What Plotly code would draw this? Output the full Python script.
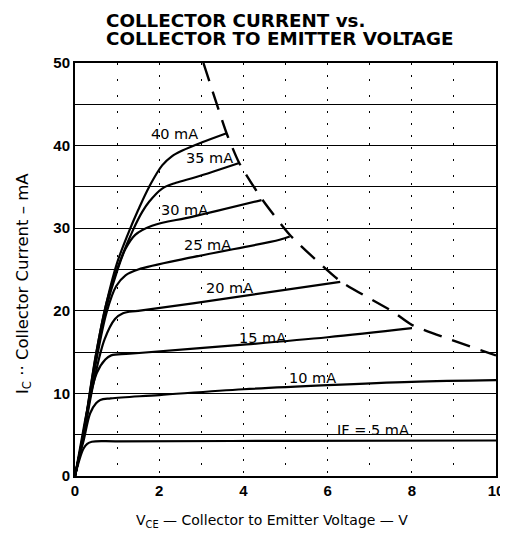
import plotly.graph_objects as go

# ---- data ----
V_5 = [0, 0.1, 0.2, 0.29, 0.4, 1.0, 5.0, 10.0]
I_5 = [0, 1.9, 3.3, 3.9, 4.15, 4.2, 4.25, 4.3]

V_10 = [0, 0.1, 0.21, 0.36, 0.5, 0.6, 0.85, 2.0, 4.0, 6.0, 8.0, 10.0]
I_10 = [0, 2.3, 4.4, 7.6, 8.8, 9.2, 9.4, 9.8, 10.5, 11.0, 11.4, 11.6]

V_15 = [0, 0.15, 0.29, 0.52, 0.72, 0.86, 1.3, 4.0, 6.0, 8.0]
I_15 = [0, 4.2, 8.0, 12.5, 14.1, 14.6, 14.8, 15.9, 16.8, 17.9]

V_20 = [0, 0.2, 0.45, 0.7, 0.95, 1.14, 1.5, 2.8, 6.3]
I_20 = [0, 4.8, 11.5, 16.5, 19.0, 19.7, 20.0, 20.9, 23.5]

V_25 = [0, 0.2, 0.5, 0.75, 0.98, 1.2, 1.5, 2.8, 4.86, 5.1]
I_25 = [0, 4.9, 13.8, 19.8, 23.0, 24.3, 25.0, 26.5, 28.6, 29.0]

V_30 = [0, 0.2, 0.5, 0.75, 1.0, 1.2, 1.43, 1.83, 2.8, 4.43]
I_30 = [0, 5.0, 14.3, 20.5, 24.8, 27.5, 29.2, 30.3, 31.4, 33.4]

V_35 = [0, 0.2, 0.5, 0.75, 1.07, 1.38, 1.6, 1.76, 2.07, 2.4, 2.88, 3.9]
I_35 = [0, 5.1, 14.7, 21.0, 26.0, 29.8, 32.0, 33.2, 34.8, 35.5, 36.2, 37.9]

V_40 = [0, 0.2, 0.5, 0.75, 1.0, 1.25, 1.5, 1.76, 2.07, 2.3, 2.55, 3.02, 3.6]
I_40 = [0, 5.2, 14.8, 21.0, 25.8, 29.2, 32.2, 35.0, 37.6, 38.7, 39.4, 40.4, 41.5]

V_LIMIT = [3.05, 3.6, 3.9, 4.43, 5.1, 6.3, 7.55, 8.0, 10.0]
I_LIMIT = [50.0, 41.5, 37.9, 33.6, 29.2, 23.6, 19.9, 18.3, 14.6]

CURVES = [(V_5, I_5), (V_10, I_10), (V_15, I_15), (V_20, I_20),
          (V_25, I_25), (V_30, I_30), (V_35, I_35), (V_40, I_40)]

LABELS = ["IF = 5 mA", "10 mA", "15 mA", "20 mA", "25 mA", "30 mA", "35 mA", "40 mA"]
LABEL_X = [7.07, 5.64, 4.45, 3.67, 3.14, 2.6, 3.19, 2.36]
LABEL_Y = [5.6, 11.9, 16.7, 22.8, 28.0, 32.2, 38.5, 41.4]

X_TICKS = [0, 2, 4, 6, 8, 10]
Y_TICKS = [0, 10, 20, 30, 40, 50]

TITLE_1 = "COLLECTOR CURRENT vs."
TITLE_2 = "COLLECTOR TO EMITTER VOLTAGE"
X_TITLE = "V<sub>CE</sub> — Collector to Emitter Voltage — V"
Y_TITLE = "I<sub>C</sub> ·· Collector Current – mA"

TICK_FONT = "Liberation Sans"
TEXT_FONT = "DejaVu Sans"

# the page body adds an 8px offset; target positions are in window pixels
OFF = 8
W, H = 508 - OFF, 542 - 2 * OFF
PL, PR, PT, PB = 75, 496, 63, 476          # plot area in window pixels
L, R, T, B = PL - OFF, W - (PR - OFF), PT - OFF, H - (PB - OFF)
PW, PH = W - L - R, H - T - B


def px_x(p):
    return (p - PL) / PW


def px_y(p):
    return (PB - p) / PH


fig = go.Figure()
for vx, iy in CURVES:
    fig.add_trace(go.Scatter(x=vx, y=iy, mode="lines",
                             line=dict(color="black", width=2.2, shape="spline", smoothing=1.0),
                             showlegend=False, hoverinfo="skip"))

fig.add_trace(go.Scatter(x=V_LIMIT, y=I_LIMIT, mode="lines",
                         line=dict(color="black", width=2.4, dash="19px,11px", shape="spline", smoothing=0.5),
                         showlegend=False, hoverinfo="skip"))

for t, lx, ly in zip(LABELS, LABEL_X, LABEL_Y):
    fig.add_annotation(x=lx, y=ly, text=t, showarrow=False,
                       font=dict(family=TEXT_FONT, size=14.5, color="black"))

# title (two left-aligned bold lines)
fig.add_annotation(xref="paper", yref="paper", x=px_x(104), y=px_y(20), xanchor="left", yanchor="middle",
                   text="<b>" + TITLE_1 + "</b>", showarrow=False,
                   font=dict(family=TEXT_FONT, size=18.3, color="black"))
fig.add_annotation(xref="paper", yref="paper", x=px_x(104), y=px_y(38), xanchor="left", yanchor="middle",
                   text="<b>" + TITLE_2 + "</b>", showarrow=False,
                   font=dict(family=TEXT_FONT, size=18.3, color="black"))

# axis titles
fig.add_annotation(xref="paper", yref="paper", x=px_x(272), y=px_y(521), xanchor="center", yanchor="middle",
                   text=X_TITLE, showarrow=False,
                   font=dict(family=TEXT_FONT, size=14, color="black"))
fig.add_annotation(xref="paper", yref="paper", x=px_x(23), y=px_y(284), xanchor="center", yanchor="middle",
                   text=Y_TITLE, showarrow=False, textangle=-90,
                   font=dict(family=TEXT_FONT, size=16.5, color="black"))

fig.update_layout(
    width=W, height=H,
    margin=dict(l=L, r=R, t=T, b=B),
    paper_bgcolor="white", plot_bgcolor="white",
    font=dict(family=TICK_FONT, color="black"),
)

fig.update_xaxes(range=[0, 10], tickvals=X_TICKS, ticktext=["<b>%d</b>" % v for v in X_TICKS],
                 showline=True, linecolor="black", linewidth=2, mirror=True,
                 showgrid=True, gridcolor="black", gridwidth=1, griddash="2px,10px",
                 minor=dict(tickvals=[1, 3, 5, 7, 9], showgrid=True, gridcolor="black",
                            gridwidth=1, griddash="2px,14px"),
                 zeroline=False, ticks="", automargin=False,
                 tickfont=dict(family=TICK_FONT, size=15, color="black"))

fig.update_yaxes(range=[0, 50], tickvals=Y_TICKS, ticktext=["<b>%d</b>" % v for v in Y_TICKS],
                 showline=True, linecolor="black", linewidth=2, mirror=True,
                 showgrid=True, gridcolor="black", gridwidth=1.3,
                 minor=dict(tickvals=[5, 15, 25, 35, 45], showgrid=True, gridcolor="black", gridwidth=1.3),
                 zeroline=False, ticks="", automargin=False,
                 tickfont=dict(family=TICK_FONT, size=15, color="black"))

fig.write_html("out.html")
